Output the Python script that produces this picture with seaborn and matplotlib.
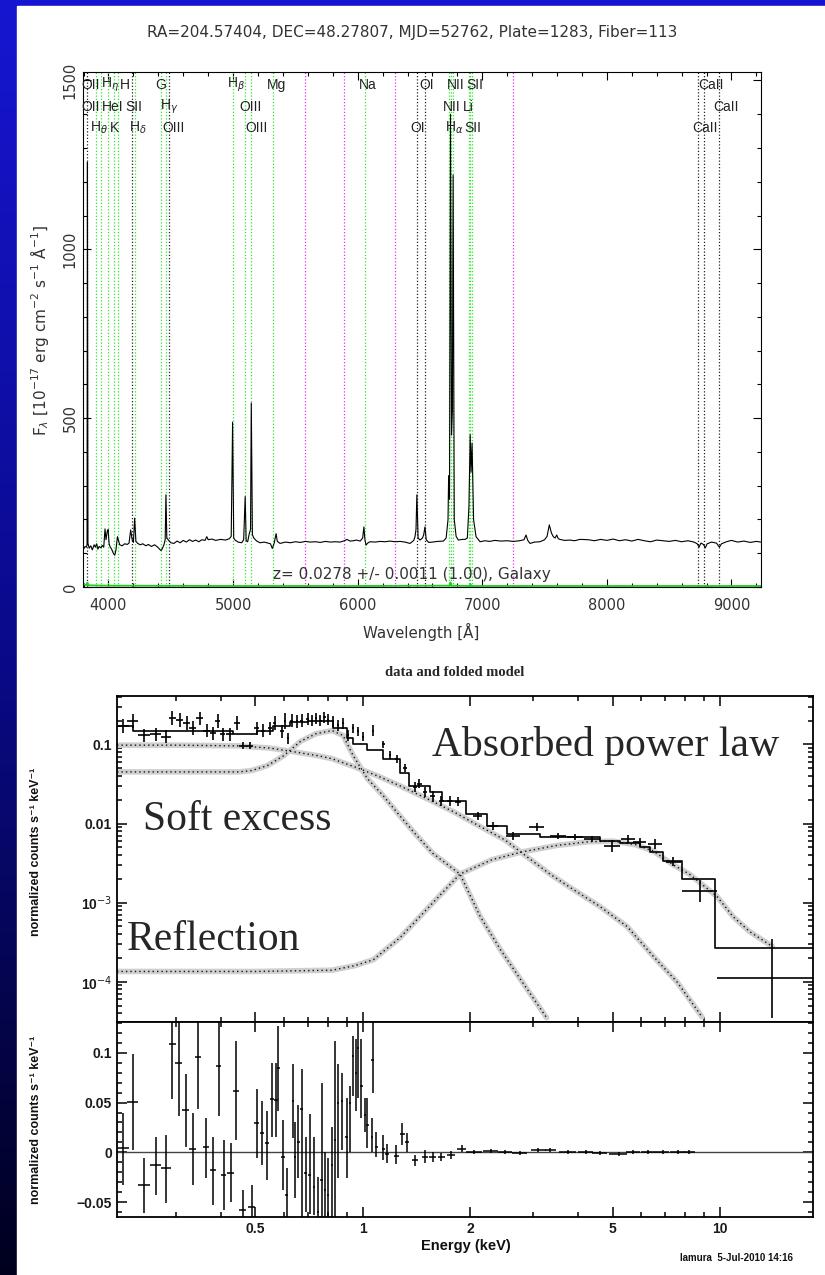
import numpy as np
import matplotlib
matplotlib.use("Agg")
import matplotlib.pyplot as plt
import matplotlib.transforms as mtransforms
from matplotlib.patches import Rectangle
from matplotlib.ticker import MultipleLocator, FixedLocator, FixedFormatter, NullFormatter
import seaborn as sns

# ---------------- optical spectrum (SDSS) ----------------
spec_wave = [3800, 3812, 3822, 3828, 3831, 3835, 3845, 3858, 3870, 3885, 3895, 3905, 3915, 3925, 3940,
             3950, 3962, 3972, 3980, 3990, 3997, 4005, 4013, 4025, 4040, 4050, 4060, 4072, 4079, 4090,
             4110, 4130, 4150, 4165, 4178, 4190, 4200, 4210, 4220, 4235, 4255, 4275, 4300, 4320, 4345,
             4370, 4395, 4420, 4430, 4445, 4455, 4461, 4468, 4481, 4500, 4525, 4550, 4575, 4600, 4625,
             4650, 4675, 4700, 4725, 4750, 4775, 4789, 4800, 4830, 4860, 4900, 4940, 4970, 4985, 4996,
             5005, 5016, 5040, 5069, 5085, 5097, 5105, 5117, 5130, 5140, 5146, 5155, 5168, 5190, 5216,
             5250, 5280, 5300, 5315, 5330, 5345, 5355, 5377, 5420, 5460, 5500, 5540, 5580, 5620, 5660,
             5700, 5740, 5780, 5820, 5860, 5900, 5912, 5940, 5966, 5990, 6020, 6040, 6050, 6058, 6067,
             6080, 6099, 6140, 6180, 6220, 6260, 6300, 6340, 6380, 6420, 6450, 6460, 6468, 6475, 6485,
             6500, 6520, 6530, 6540, 6550, 6570, 6600, 6640, 6688, 6710, 6725, 6730, 6737, 6745, 6753,
             6760, 6766, 6775, 6790, 6808, 6840, 6862, 6880, 6893, 6903, 6910, 6918, 6930, 6950, 6982,
             7020, 7060, 7100, 7150, 7200, 7250, 7300, 7335, 7351, 7365, 7383, 7420, 7463, 7500, 7520,
             7538, 7555, 7570, 7585, 7597, 7610, 7623, 7660, 7704, 7740, 7784, 7850, 7900, 7950, 8000,
             8050, 8100, 8150, 8200, 8250, 8300, 8350, 8400, 8450, 8500, 8550, 8600, 8650, 8700, 8725,
             8740, 8755, 8775, 8790, 8805, 8840, 8880, 8903, 8920, 8960, 9000, 9050, 9100, 9150, 9200,
             9235]
spec_flux = [112, 120, 118, 125, 1258, 130, 115, 122, 110, 125, 118, 128, 112, 120, 116,
             123, 118, 172, 140, 165, 170, 128, 119, 112, 99, 94, 110, 149, 140, 125,
             122, 128, 126, 130, 169, 140, 132, 204, 135, 129, 125, 128, 122, 126, 120,
             125, 118, 108, 112, 125, 140, 273, 145, 139, 131, 129, 136, 131, 138, 133,
             140, 135, 139, 134, 140, 138, 149, 140, 142, 138, 141, 139, 143, 150, 488,
             145, 139, 133, 131, 140, 268, 137, 134, 158, 170, 545, 155, 144, 136, 131,
             133, 130, 128, 114, 130, 158, 135, 129, 133, 131, 134, 132, 135, 133, 134,
             132, 135, 133, 134, 133, 138, 141, 136, 137, 139, 136, 145, 178, 140, 124,
             130, 134, 133, 135, 134, 136, 134, 135, 133, 129, 138, 149, 170, 273, 145,
             139, 145, 155, 178, 140, 132, 133, 135, 136, 145, 200, 330, 260, 1400, 450,
             520, 1220, 200, 150, 139, 141, 141, 145, 238, 451, 340, 426, 200, 149, 134,
             137, 135, 138, 136, 137, 135, 137, 140, 154, 138, 129, 133, 134, 140, 150,
             184, 160, 149, 145, 154, 143, 141, 138, 139, 137, 141, 140, 137, 141, 138,
             142, 137, 140, 136, 141, 137, 134, 139, 137, 135, 138, 134, 137, 133, 128,
             118, 130, 126, 116, 128, 133, 130, 118, 128, 134, 138, 133, 136, 132, 135,
             133]
err_wave = [3800, 3828, 3831, 3836, 4000, 5000, 6000, 6738, 6745, 6752, 6900, 6905, 6912, 7000, 8000, 9237]
err_flux = [7, 6, 13, 5, 4, 3, 3, 4, 14, 4, 3, 8, 3, 3, 3, 3]

line_wave = [3830, 3903.5, 3942, 3997, 4043, 4079, 4185, 4216, 4424, 4461, 4484, 4996.5, 5097, 5146,
             5319, 6057, 6475, 6540, 6730, 6745, 6766, 6893, 6903, 6918, 8734, 8780, 8903]
line_kind = ["abs", "em", "em", "em", "em", "em", "abs", "em", "em", "em", "abs", "em", "em", "em",
             "em", "em", "abs", "abs", "em", "em", "em", "em", "em", "em", "abs", "abs", "abs"]
sky_wave = [5577, 5893, 6300, 7246]

row1_text = ["OII", r"H$_\eta$", "H", "G", r"H$_\beta$", "Mg", "Na", "OI", "NII", "SII", "CaII"]
row1_wave = [3830, 3942, 4079, 4424, 4996.5, 5319, 6057, 6540, 6766, 6918, 8780]
row2_text = ["OII", "HeI", "SII", r"H$_\gamma$", "OIII", "NII", "Li", "CaII"]
row2_wave = [3830, 3997, 4185, 4461, 5097, 6730, 6893, 8903]
row3_text = [r"H$_\theta$", "K", r"H$_\delta$", "OIII", "OIII", "OI", r"H$_\alpha$", "SII", "CaII"]
row3_wave = [3903.5, 4043, 4216, 4484, 5146, 6475, 6745, 6903, 8734]

# ---------------- X-ray spectrum (XSPEC) ----------------
xd_energy = [0.213, 0.227, 0.244, 0.263, 0.282, 0.293, 0.307, 0.321, 0.334, 0.349, 0.366, 0.380, 0.392,
             0.405, 0.424, 0.444, 0.461, 0.482, 0.505, 0.525, 0.549, 0.567, 0.593, 0.605, 0.617, 0.632,
             0.654, 0.675, 0.700, 0.720, 0.740, 0.760, 0.780, 0.800, 0.824, 0.850, 0.879, 0.908, 0.937,
             0.968, 1.000, 1.066, 1.140, 1.190, 1.245, 1.310, 1.400, 1.440, 1.490, 1.570, 1.660, 1.750,
             1.850, 2.100, 2.310, 2.630, 3.070, 3.520, 3.920, 4.380, 4.980, 5.530, 5.970, 6.580, 7.400,
             8.800, 14.00]
xd_counts = [0.170, 0.196, 0.130, 0.134, 0.126, 0.214, 0.202, 0.185, 0.160, 0.214, 0.150, 0.138, 0.200,
             0.134, 0.134, 0.185, 0.097, 0.097, 0.160, 0.150, 0.160, 0.185, 0.146, 0.196, 0.120, 0.200,
             0.196, 0.200, 0.210, 0.200, 0.215, 0.200, 0.220, 0.205, 0.196, 0.174, 0.185, 0.130, 0.160,
             0.146, 0.126, 0.150, 0.100, 0.073, 0.066, 0.050, 0.029, 0.032, 0.025, 0.022, 0.0194, 0.0194,
             0.019, 0.0125, 0.0094, 0.0070, 0.0090, 0.0070, 0.0068, 0.0064, 0.0052, 0.0064, 0.0058, 0.0055,
             0.0033, 0.0014, 0.00011]
xd_ehalf = [0.008, 0.008, 0.009, 0.010, 0.009, 0.006, 0.007, 0.007, 0.007, 0.007, 0.008, 0.007, 0.006,
            0.007, 0.010, 0.008, 0.010, 0.011, 0.008, 0.008, 0.007, 0.006, 0.007, 0.005, 0.005, 0.005,
            0.006, 0.006, 0.006, 0.006, 0.006, 0.006, 0.006, 0.006, 0.006, 0.006, 0.006, 0.006, 0.006,
            0.006, 0.008, 0.008, 0.010, 0.010, 0.012, 0.015, 0.020, 0.020, 0.020, 0.025, 0.030, 0.030,
            0.035, 0.060, 0.080, 0.120, 0.150, 0.180, 0.200, 0.220, 0.250, 0.250, 0.250, 0.300, 0.350,
            1.000, 4.200]
xd_errdex = [0.09, 0.09, 0.08, 0.08, 0.08, 0.09, 0.09, 0.09, 0.09, 0.08, 0.08, 0.08, 0.09,
             0.08, 0.08, 0.09, 0.05, 0.05, 0.08, 0.08, 0.08, 0.09, 0.08, 0.10, 0.07, 0.08,
             0.08, 0.08, 0.07, 0.07, 0.07, 0.07, 0.07, 0.07, 0.07, 0.07, 0.07, 0.07, 0.06,
             0.06, 0.06, 0.07, 0.05, 0.05, 0.05, 0.05, 0.06, 0.06, 0.06, 0.07, 0.06, 0.06,
             0.06, 0.05, 0.05, 0.05, 0.05, 0.04, 0.04, 0.04, 0.07, 0.05, 0.05, 0.06, 0.06,
             0.14, 0.50]

model_edges = [0.205, 0.227, 0.433, 0.504, 0.560, 0.624, 0.700, 0.826, 0.900, 0.939, 1.024, 1.140, 1.270,
               1.350, 1.540, 1.670, 1.950, 2.220, 2.530, 3.130, 4.600, 5.250, 5.960, 6.360, 6.900, 7.800,
               9.700, 18.20]
model_counts = [0.170, 0.150, 0.135, 0.150, 0.170, 0.190, 0.200, 0.160, 0.120, 0.100, 0.085, 0.065, 0.043,
                0.030, 0.025, 0.0194, 0.0133, 0.0094, 0.0074, 0.0068, 0.0061, 0.0057, 0.0051, 0.0044,
                0.0034, 0.0020, 0.00027]

pl_energy = [0.205, 0.30, 0.45, 0.55, 0.65, 0.75, 0.82, 0.95, 1.10, 1.27, 1.50, 1.80, 2.10, 2.50, 2.88,
             3.34, 3.87, 4.60, 5.49, 6.50, 7.57, 8.90]
pl_counts = [0.098, 0.098, 0.096, 0.090, 0.080, 0.072, 0.066, 0.052, 0.040, 0.030, 0.021, 0.014, 0.0095,
             0.0062, 0.0038, 0.0023, 0.00148, 0.0009, 0.0005, 0.00021, 0.0001, 0.000036]
soft_energy = [0.205, 0.30, 0.45, 0.49, 0.54, 0.60, 0.67, 0.74, 0.82, 0.88, 0.94, 1.03, 1.14, 1.27, 1.41,
               1.57, 1.87, 2.13, 2.42, 2.80, 3.27]
soft_counts = [0.045, 0.045, 0.045, 0.047, 0.054, 0.072, 0.110, 0.137, 0.150, 0.130, 0.072, 0.037, 0.0225,
               0.0125, 0.0072, 0.0042, 0.0023, 0.00067, 0.00026, 0.000098, 0.000035]
refl_energy = [0.205, 0.50, 0.82, 0.95, 1.07, 1.27, 1.50, 1.87, 2.30, 2.80, 3.50, 4.30, 5.00, 5.80, 6.50,
               7.40, 8.20, 9.80, 10.86, 12.10, 14.00]
refl_counts = [0.000135, 0.000135, 0.00014, 0.00016, 0.00019, 0.00036, 0.0008, 0.0023, 0.0035, 0.0044,
               0.0053, 0.0059, 0.0060, 0.0054, 0.0045, 0.0030, 0.0023, 0.0012, 0.00067, 0.00043, 0.00028]

res_energy = [0.213, 0.227, 0.244, 0.263, 0.282, 0.293, 0.305, 0.319, 0.334, 0.346, 0.364, 0.380, 0.395,
              0.408, 0.427, 0.441, 0.461, 0.489, 0.505, 0.522, 0.540, 0.557, 0.571, 0.580, 0.597, 0.612,
              0.637, 0.645, 0.660, 0.675, 0.692, 0.710, 0.730, 0.748, 0.767, 0.785, 0.800, 0.818, 0.835,
              0.850, 0.873, 0.900, 0.920, 0.937, 0.955, 0.968, 0.990, 1.013, 1.030, 1.060, 1.065, 1.090,
              1.140, 1.170, 1.240, 1.290, 1.330, 1.400, 1.490, 1.570, 1.660, 1.770, 1.890, 2.05, 2.28,
              2.50, 2.75, 3.10, 3.35, 3.75, 4.20, 4.60, 5.20, 5.70, 6.30, 6.90, 7.60, 8.20]
res_value = [0.004, 0.051, -0.033, -0.013, -0.016, 0.109, 0.090, 0.043, 0.003, 0.096, 0.005, -0.018, 0.087,
             -0.023, -0.021, 0.062, -0.058, -0.055, 0.029, 0.019, 0.009, 0.054, 0.053, 0.085, -0.005, -0.043,
             0.052, -0.005, 0.010, 0.044, -0.021, -0.023, -0.035, -0.060, -0.028, -0.038, -0.043, -0.013,
             0.012, 0.050, 0.052, 0.015, 0.050, 0.097, 0.080, 0.105, 0.067, 0.038, 0.027, 0.015, 0.093,
             0.005, 0.003, -0.002, -0.004, 0.018, 0.010, -0.008, -0.005, -0.005, -0.005, -0.003, 0.003,
             0.000, 0.001, 0.000, -0.001, 0.002, 0.002, 0.000, 0.000, -0.001, -0.002, 0.000, 0.000, 0.000,
             0.000, 0.000]
res_low = [-0.033, 0.002, -0.061, -0.043, -0.051, 0.054, 0.037, 0.005, -0.033, 0.044, -0.026, -0.053, 0.037,
           -0.058, -0.050, 0.012, -0.070, -0.070, -0.006, -0.013, -0.028, 0.015, 0.015, 0.042, -0.038, -0.070,
           0.014, -0.046, -0.026, -0.070, -0.060, -0.062, -0.063, -0.070, -0.070, -0.070, -0.070, -0.070,
           -0.070, -0.026, 0.002, -0.026, 0.000, 0.057, 0.042, 0.055, 0.035, 0.020, 0.004, 0.000, 0.060,
           -0.005, -0.008, -0.011, -0.012, 0.007, 0.000, -0.014, -0.011, -0.010, -0.009, -0.007, 0.000,
           -0.002, -0.001, -0.002, -0.003, 0.000, 0.000, -0.002, -0.002, -0.003, -0.004, -0.002, -0.002,
           -0.002, -0.002, -0.002]
res_high = [0.040, 0.099, -0.006, 0.015, 0.017, 0.135, 0.135, 0.079, 0.040, 0.135, 0.035, 0.015, 0.135,
            0.012, 0.009, 0.112, -0.038, -0.033, 0.064, 0.052, 0.042, 0.090, 0.090, 0.127, 0.032, -0.016,
            0.089, 0.030, 0.048, 0.084, 0.015, 0.039, 0.015, -0.025, 0.070, 0.000, -0.006, 0.025, 0.112,
            0.089, 0.080, 0.055, 0.067, 0.117, 0.114, 0.135, 0.114, 0.055, 0.055, 0.035, 0.135, 0.020,
            0.017, 0.008, 0.007, 0.029, 0.019, -0.003, 0.002, 0.000, -0.001, 0.001, 0.007, 0.002, 0.003,
            0.002, 0.001, 0.004, 0.004, 0.002, 0.002, 0.001, 0.000, 0.002, 0.002, 0.002, 0.002, 0.002]
res_ehalf = [0.008, 0.008, 0.009, 0.010, 0.009, 0.006, 0.007, 0.007, 0.007, 0.007, 0.008, 0.007, 0.006,
             0.007, 0.010, 0.008, 0.010, 0.011, 0.008, 0.008, 0.007, 0.006, 0.006, 0.005, 0.007, 0.005,
             0.005, 0.005, 0.006, 0.006, 0.006, 0.006, 0.006, 0.006, 0.006, 0.006, 0.006, 0.006, 0.006,
             0.006, 0.006, 0.006, 0.006, 0.006, 0.006, 0.006, 0.008, 0.008, 0.008, 0.008, 0.008, 0.010,
             0.012, 0.015, 0.020, 0.020, 0.020, 0.025, 0.030, 0.035, 0.040, 0.045, 0.050, 0.10, 0.11,
             0.11, 0.13, 0.15, 0.12, 0.20, 0.20, 0.22, 0.30, 0.25, 0.30, 0.30, 0.35, 0.30]

# ---------------- figure ----------------
sns.set_theme(style="white")
plt.rcParams["font.family"] = ["DejaVu Sans"]
plt.rcParams["mathtext.fontset"] = "dejavusans"

W, H = 825, 1275
fig = plt.figure(figsize=(W / 100, H / 100), dpi=100)


def rect(l, t, r, b):
    return [l / W, 1 - b / H, (r - l) / W, (b - t) / H]


def fpos(x, y):
    return x / W, 1 - y / H


# background: blue gradient strip + white page
bg = fig.add_axes([0, 0, 1, 1], zorder=-10)
bg.set_axis_off()
stops = np.array([[22, 22, 210], [10, 10, 140], [0, 0, 30]]) / 255.0
yy = np.linspace(0, 1, 600)
grad = np.stack([np.interp(yy, [0, 0.5, 1], stops[:, i]) for i in range(3)], axis=-1)[:, None, :]
bg.imshow(grad, aspect="auto", extent=[0, 1, 0, 1], origin="upper", zorder=0)
bg.add_patch(Rectangle((17 / W, 0), 1, 1 - 6 / H, color="white", zorder=1))
bg.set_xlim(0, 1)
bg.set_ylim(0, 1)

# ---------- upper: SDSS optical spectrum ----------
GREEN = "#2ee82e"
MAG = "#ee30ee"
GREY = "#333333"
LF = ["Liberation Sans", "DejaVu Sans"]
ax1 = fig.add_axes(rect(82.7, 72, 761, 587))
ax1.set_facecolor("white")
for w, k in zip(line_wave, line_kind):
    ax1.axvline(w, color=GREEN if k == "em" else "#222222", ls=(0, (1, 1.6)), lw=0.9, zorder=1)
for w in sky_wave:
    ax1.axvline(w, color=MAG, ls=(0, (1, 1.6)), lw=0.9, zorder=1)
sns.lineplot(x=err_wave, y=err_flux, ax=ax1, color="#22cc22", lw=1.3, estimator=None, sort=False, zorder=2)
sns.lineplot(x=spec_wave, y=spec_flux, ax=ax1, color="black", lw=0.8, estimator=None, sort=False, zorder=3)
ax1.set_xlim(3793, 9237)
ax1.set_ylim(0, 1525)
ax1.set_xlabel("")
ax1.set_ylabel("")
ax1.xaxis.set_major_locator(MultipleLocator(1000))
ax1.xaxis.set_minor_locator(MultipleLocator(200))
ax1.yaxis.set_major_locator(MultipleLocator(500))
ax1.yaxis.set_minor_locator(MultipleLocator(100))
ax1.tick_params(which="both", direction="in", top=True, right=True, bottom=True, left=True,
                colors="black", labelcolor=GREY, labelsize=10.5, width=0.8)
ax1.tick_params(which="major", length=6)
ax1.tick_params(which="minor", length=3)
ax1.tick_params(axis="x", pad=8)
for t in ax1.get_yticklabels():
    t.set_rotation(90)
    t.set_va("center")
for s in ax1.spines.values():
    s.set_color("black")
    s.set_linewidth(0.8)

trans = mtransforms.blended_transform_factory(ax1.transData, ax1.transAxes)
rows = []
for texts, waves, yf in [(row1_text, row1_wave, 0.975), (row2_text, row2_wave, 0.932),
                         (row3_text, row3_wave, 0.891)]:
    anns = []
    for txt, w in zip(texts, waves):
        a = ax1.annotate(txt, xy=(w, yf), xycoords=trans, xytext=(-6, 0), textcoords="offset pixels",
                         ha="left", va="center", fontsize=10, family=LF, color="#222222", zorder=4)
        anns.append(a)
    rows.append(anns)

fig.text(*fpos(412, 33), "RA=204.57404, DEC=48.27807, MJD=52762, Plate=1283, Fiber=113",
         ha="center", va="center", fontsize=11, color=GREY)
fig.text(*fpos(421, 632), "Wavelength [Å]", ha="center", va="center", fontsize=10.8, color=GREY)
fig.text(*fpos(40, 330), r"F$_\lambda$ [10$^{-17}$ erg cm$^{-2}$ s$^{-1}$ Å$^{-1}$]", rotation=90,
         ha="center", va="center", fontsize=11, color=GREY)
fig.text(*fpos(412, 575), "z= 0.0278 +/- 0.0011 (1.00), Galaxy", ha="center", va="center",
         fontsize=11, color=GREY)

# ---------- lower: XSPEC data and folded model ----------
XF = ["Liberation Sans", "DejaVu Sans"]
ax2 = fig.add_axes(rect(117, 696, 813, 1022))
ax3 = fig.add_axes(rect(117, 1022, 813, 1217))

for E, C in [(pl_energy, pl_counts), (soft_energy, soft_counts), (refl_energy, refl_counts)]:
    sns.lineplot(x=E, y=C, ax=ax2, color="#cfcfcf", lw=4, estimator=None, sort=False, zorder=1)
    sns.lineplot(x=E, y=C, ax=ax2, color="#111111", lw=1.0, ls=(0, (1, 2.2)), estimator=None,
                 sort=False, zorder=2)
sns.lineplot(x=model_edges, y=model_counts + [model_counts[-1]], ax=ax2, color="black", lw=1.2,
             drawstyle="steps-post", estimator=None, sort=False, zorder=3)
xc = np.array(xd_counts)
xe = np.array(xd_errdex)
ax2.errorbar(xd_energy, xd_counts, xerr=xd_ehalf, yerr=[xc - xc / 10 ** xe, xc * 10 ** xe - xc],
             fmt="none", ecolor="black", elinewidth=1.2, zorder=4)
ax2.set_xscale("log")
ax2.set_yscale("log")
ax2.set_xlim(0.205, 18.2)
ax2.set_ylim(3.1e-5, 0.41)
ax2.set_xlabel("")
ax2.set_ylabel("")
ax2.yaxis.set_major_locator(FixedLocator([1e-4, 1e-3, 1e-2, 1e-1]))
ax2.yaxis.set_major_formatter(FixedFormatter(["10$^{-4}$", "10$^{-3}$", "0.01", "0.1"]))
ax2.xaxis.set_major_locator(FixedLocator([0.5, 1, 2, 5, 10]))
ax2.xaxis.set_minor_locator(FixedLocator([0.3, 0.4, 0.6, 0.7, 0.8, 0.9, 3, 4, 6, 7, 8, 9]))
ax2.xaxis.set_major_formatter(NullFormatter())
ax2.xaxis.set_minor_formatter(NullFormatter())

ax3.axhline(0, color="#444444", lw=1.0, zorder=1)
rv = np.array(res_value)
ax3.errorbar(res_energy, res_value, xerr=res_ehalf, yerr=[rv - np.array(res_low), np.array(res_high) - rv],
             fmt="none", ecolor="black", elinewidth=1.1, zorder=3)
ax3.set_xscale("log")
ax3.set_xlim(0.205, 18.2)
ax3.set_ylim(-0.065, 0.131)
ax3.yaxis.set_major_locator(FixedLocator([-0.05, 0, 0.05, 0.1]))
ax3.yaxis.set_major_formatter(FixedFormatter(["\u22120.05", "0", "0.05", "0.1"]))
ax3.yaxis.set_minor_locator(MultipleLocator(0.01))
ax3.xaxis.set_major_locator(FixedLocator([0.5, 1, 2, 5, 10]))
ax3.xaxis.set_major_formatter(FixedFormatter(["0.5", "1", "2", "5", "10"]))
ax3.xaxis.set_minor_locator(FixedLocator([0.3, 0.4, 0.6, 0.7, 0.8, 0.9, 3, 4, 6, 7, 8, 9]))
ax3.xaxis.set_minor_formatter(NullFormatter())

for ax in (ax2, ax3):
    ax.set_facecolor("white")
    ax.tick_params(which="both", direction="in", top=True, right=True, bottom=True, left=True,
                   colors="black", labelcolor="#1a1a1a", width=1.1)
    ax.tick_params(which="major", length=7)
    ax.tick_params(which="minor", length=3.5)
    for t in ax.get_xticklabels() + ax.get_yticklabels():
        t.set_fontfamily(XF)
        t.set_fontweight("bold")
        t.set_fontsize(10)
    for s in ax.spines.values():
        s.set_color("black")
        s.set_linewidth(1.3)

fig.text(*fpos(455, 672), "data and folded model", ha="center", va="center", fontsize=10.5,
         family=["Liberation Serif", "DejaVu Serif"], weight="bold")
ylab = "normalized counts s\u207b\u00b9 keV\u207b\u00b9"
fig.text(*fpos(36, 852), ylab, rotation=90, ha="center", va="center", fontsize=9, family=XF,
         weight="bold", color="#111111")
fig.text(*fpos(36, 1120), ylab, rotation=90, ha="center", va="center", fontsize=9, family=XF,
         weight="bold", color="#111111")
fig.text(*fpos(466, 1246), "Energy (keV)", ha="center", va="center", fontsize=10.5, family=XF,
         weight="bold", color="#111111")
fig.text(*fpos(736, 1258), "Iamura  5-Jul-2010 14:16", ha="center", va="center", fontsize=7,
         family=XF, weight="bold", color="#111111")

SERIF = ["Liberation Serif", "DejaVu Serif"]
fig.text(*fpos(432, 756), "Absorbed power law", ha="left", va="baseline", fontsize=30, family=SERIF)
fig.text(*fpos(143, 830), "Soft excess", ha="left", va="baseline", fontsize=30, family=SERIF)
fig.text(*fpos(127, 950), "Reflection", ha="left", va="baseline", fontsize=30, family=SERIF)

# keep spectral-line labels of one row from running into each other
fig.canvas.draw()
renderer = fig.canvas.get_renderer()
for anns in rows:
    prev_x1 = -1e9
    for a in anns:
        bb = a.get_window_extent(renderer)
        if bb.x0 < prev_x1 + 1:
            a.xyann = (a.xyann[0] + (prev_x1 + 1 - bb.x0), a.xyann[1])
            bb = a.get_window_extent(renderer)
        prev_x1 = bb.x1

fig.savefig("out.png", dpi=100)
